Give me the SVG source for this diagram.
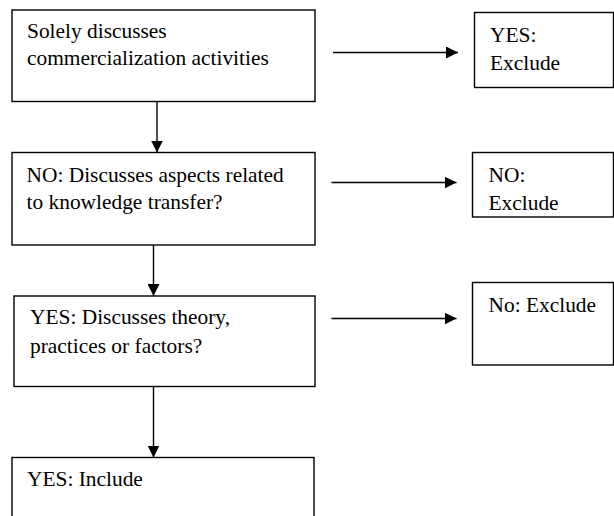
<svg xmlns="http://www.w3.org/2000/svg" width="614" height="516" viewBox="0 0 614 516">
<style>
.box{fill:#fff;stroke:#000;stroke-width:1.4}
.t{font-family:'Liberation Serif','Times New Roman','DejaVu Serif',serif;font-size:21.4px;fill:#000}
.c{stroke:#000;stroke-width:1.4;fill:none}
</style>
<defs>
<marker id="ah" markerUnits="userSpaceOnUse" markerWidth="12" markerHeight="12" viewBox="0 0 12 12" refX="12" refY="6" orient="auto">
<path d="M0,0 L12,6 L0,12 Z" fill="#000"/>
</marker>
</defs>
<rect width="614" height="516" fill="#fff"/>
<g id="connectors">
<line class="c" x1="157" y1="101.5" x2="157" y2="152.5" marker-end="url(#ah)"/>
<line class="c" x1="153.5" y1="245" x2="153.5" y2="296" marker-end="url(#ah)"/>
<line class="c" x1="153.5" y1="387" x2="153.5" y2="457.5" marker-end="url(#ah)"/>
<line class="c" x1="333" y1="52.5" x2="458" y2="52.5" marker-end="url(#ah)"/>
<line class="c" x1="331.5" y1="182.5" x2="456.5" y2="182.5" marker-end="url(#ah)"/>
<line class="c" x1="331.5" y1="318.5" x2="456.5" y2="318.5" marker-end="url(#ah)"/>
</g>
<g id="n1">
<rect class="box" x="12" y="10" width="303" height="91.5"/>
<text class="t" font-family="Liberation Serif, serif" x="27" y="37.5">Solely discusses</text>
<text class="t" font-family="Liberation Serif, serif" x="27" y="65">commercialization activities</text>
</g>
<g id="n2">
<rect class="box" x="474.5" y="12.5" width="139" height="75"/>
<text class="t" x="490" y="41.5">YES:</text>
<text class="t" x="490" y="69.5">Exclude</text>
</g>
<g id="n3">
<rect class="box" x="12" y="152.5" width="303" height="92.5"/>
<text class="t" x="26.5" y="181.5">NO: Discusses aspects related</text>
<text class="t" x="26.5" y="209">to knowledge transfer?</text>
</g>
<g id="n4">
<rect class="box" x="472.5" y="152.5" width="141" height="64.5"/>
<text class="t" x="488.5" y="181.5">NO:</text>
<text class="t" x="488.5" y="210">Exclude</text>
</g>
<g id="n5">
<rect class="box" x="14" y="296" width="301" height="90.5"/>
<text class="t" x="30" y="324">YES: Discusses theory,</text>
<text class="t" x="30" y="352.5">practices or factors?</text>
</g>
<g id="n6">
<rect class="box" x="472.5" y="282.5" width="141" height="82.5"/>
<text class="t" x="488.5" y="311.5">No: Exclude</text>
</g>
<g id="n7">
<rect class="box" x="12" y="457.5" width="302" height="70"/>
<text class="t" x="27" y="486">YES: Include</text>
</g>
</svg>
